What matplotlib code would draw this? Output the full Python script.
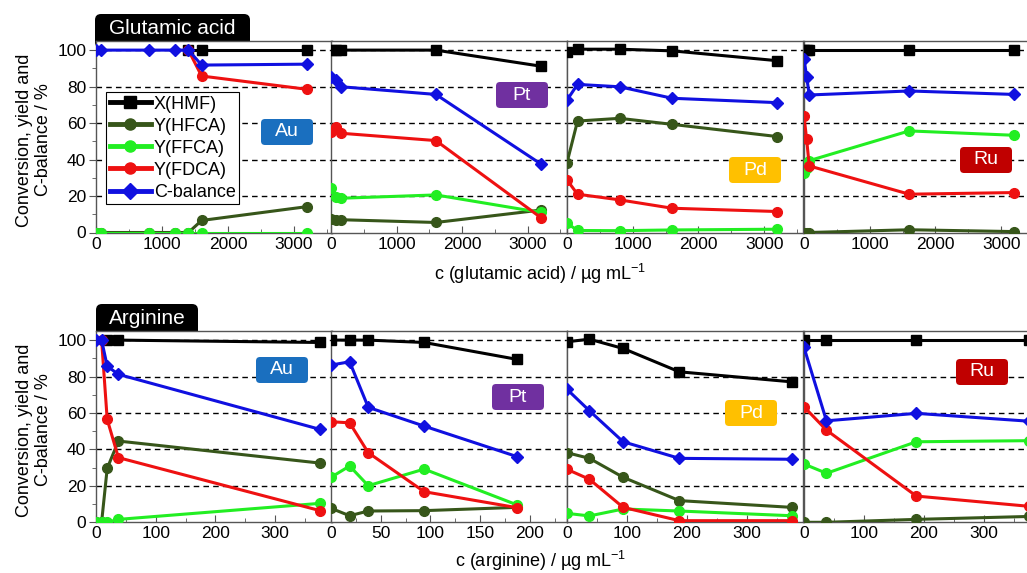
import matplotlib
matplotlib.use("Agg")
import matplotlib.pyplot as plt
from matplotlib.ticker import MultipleLocator, AutoMinorLocator
from matplotlib.patches import FancyBboxPatch
from matplotlib.transforms import IdentityTransform

plt.rcParams['font.family'] = ['Liberation Sans', 'DejaVu Sans']
plt.rcParams['mathtext.default'] = 'regular'

nan = float('nan')

# ---------------- data ----------------
series_names = ["X(HMF)", "Y(HFCA)", "Y(FFCA)", "Y(FDCA)", "C-balance"]
series_colors = ["#000000", "#37561a", "#22ee22", "#ee1111", "#1010e0"]
series_markers = ["s", "o", "o", "o", "D"]

catalysts = ["Au", "Pt", "Pd", "Ru"]
catalyst_colors = ["#1a6fbf", "#7030a0", "#ffc000", "#c00000"]

# Glutamic acid (µg/mL)
glu_x_au = [0, 80, 800, 1200, 1400, 1600, 3200]
glu_au_hmf = [nan, nan, nan, nan, 100, 100, 100]
glu_au_hfca = [0, 0, 0, 0, 0, 6.6, 14.2]
glu_au_ffca = [0, 0, 0, 0, 0, 0, 0]
glu_au_fdca = [nan, nan, nan, nan, 100, 85.8, 78.5]
glu_au_cbal = [100, 100, 100, 100, 100, 91.8, 92.3]

glu_x_pt = [0, 80, 160, 1600, 3200]
glu_pt_hmf = [100, 100, 100, 100, 91.2]
glu_pt_hfca = [7.3, 6.6, 7.0, 5.5, 12.3]
glu_pt_ffca = [24.3, 19.2, 18.8, 20.6, 11.0]
glu_pt_fdca = [55.3, 58.0, 54.4, 50.4, 8.2]
glu_pt_cbal = [85.4, 83.6, 79.9, 75.7, 37.6]

glu_x_pd = [0, 160, 800, 1600, 3200]
glu_pd_hmf = [99.0, 100.5, 100.5, 99.6, 94.2]
glu_pd_hfca = [38.3, 61.1, 62.6, 59.3, 52.6]
glu_pd_ffca = [5.1, 1.1, 1.0, 1.4, 1.8]
glu_pd_fdca = [28.8, 21.0, 17.9, 13.3, 11.5]
glu_pd_cbal = [72.6, 81.2, 79.9, 73.6, 71.2]

glu_x_ru = [0, 40, 80, 1600, 3200]
glu_ru_hmf = [100, 100, 100, 100, 100]
glu_ru_hfca = [0, 0, 0, 1.5, 0.5]
glu_ru_ffca = [32.8, 35.5, 39.4, 55.7, 53.3]
glu_ru_fdca = [63.9, 51.1, 36.5, 21.0, 21.9]
glu_ru_cbal = [95.4, 85.4, 75.4, 77.6, 75.7]

# Arginine (µg/mL)
arg_x_au = [0, 9.375, 18.75, 37.5, 375]
arg_au_hmf = [nan, nan, 100, 100, 98.7]
arg_au_hfca = [0, 0, 29.6, 44.6, 32.5]
arg_au_ffca = [0, 0, 0, 1.6, 10.4]
arg_au_fdca = [nan, 100, 56.5, 35.5, 6.4]
arg_au_cbal = [100, 100, 85.7, 81.2, 51.0]

arg_x_pt = [0, 18.75, 37.5, 93.75, 187.5]
arg_pt_hmf = [100, 100, 100, 98.7, 89.4]
arg_pt_hfca = [7.7, 3.6, 6.2, 6.4, 8.2]
arg_pt_ffca = [24.7, 30.9, 20.1, 29.2, 9.5]
arg_pt_fdca = [55.2, 54.6, 38.2, 16.8, 8.0]
arg_pt_cbal = [86.3, 88.1, 63.1, 52.8, 36.0]

arg_x_pd = [0, 37.5, 93.75, 187.5, 375]
arg_pd_hmf = [99.1, 100.5, 95.4, 82.6, 77.1]
arg_pd_hfca = [38.2, 35.1, 24.7, 11.9, 8.2]
arg_pd_ffca = [4.9, 3.5, 7.3, 6.2, 3.6]
arg_pd_fdca = [29.1, 23.6, 8.2, 0.9, 0.9]
arg_pd_cbal = [73.0, 61.2, 44.2, 35.1, 34.6]

arg_x_ru = [0, 37.5, 187.5, 375]
arg_ru_hmf = [100, 100, 100, 100]
arg_ru_hfca = [0, 0, 1.6, 3.2]
arg_ru_ffca = [32.0, 26.9, 44.2, 44.8]
arg_ru_fdca = [63.4, 50.6, 14.4, 8.8]
arg_ru_cbal = [96.0, 55.7, 59.8, 55.5]

glu_panels = [
    (glu_x_au, [glu_au_hmf, glu_au_hfca, glu_au_ffca, glu_au_fdca, glu_au_cbal]),
    (glu_x_pt, [glu_pt_hmf, glu_pt_hfca, glu_pt_ffca, glu_pt_fdca, glu_pt_cbal]),
    (glu_x_pd, [glu_pd_hmf, glu_pd_hfca, glu_pd_ffca, glu_pd_fdca, glu_pd_cbal]),
    (glu_x_ru, [glu_ru_hmf, glu_ru_hfca, glu_ru_ffca, glu_ru_fdca, glu_ru_cbal]),
]
arg_panels = [
    (arg_x_au, [arg_au_hmf, arg_au_hfca, arg_au_ffca, arg_au_fdca, arg_au_cbal]),
    (arg_x_pt, [arg_pt_hmf, arg_pt_hfca, arg_pt_ffca, arg_pt_fdca, arg_pt_cbal]),
    (arg_x_pd, [arg_pd_hmf, arg_pd_hfca, arg_pd_ffca, arg_pd_fdca, arg_pd_cbal]),
    (arg_x_ru, [arg_ru_hmf, arg_ru_hfca, arg_ru_ffca, arg_ru_fdca, arg_ru_cbal]),
]

glu_xlims = [3575, 3600, 3590, 3590]
glu_major = [1000, 1000, 1000, 1000]
arg_xlims = [395, 237.5, 394, 394]
arg_major = [100, 50, 100, 100]

# ---------------- layout ----------------
W, H = 1027, 573
fig = plt.figure(figsize=(W / 100, H / 100), dpi=100)


def px_box(x0, y0_top, w, h, color, text, fontsize, rounding=5, zorder=5):
    """Rounded box given in image pixels (origin top-left)."""
    patch = FancyBboxPatch((x0, H - y0_top - h), w, h,
                           boxstyle=f"round,pad=0,rounding_size={rounding}",
                           facecolor=color, edgecolor="none",
                           transform=IdentityTransform(), zorder=zorder)
    fig.add_artist(patch)
    fig.text((x0 + w / 2) / W, 1 - (y0_top + h / 2) / H, text, color="white",
             fontsize=fontsize, ha="center", va="center", zorder=zorder + 1)


lefts_px = [96, 331, 567, 804]
width_px = 236
rows = [(41, 232.5), (331, 522.3)]  # (top_px, bottom_px)

label_pos_glu = [(287, 132), (522, 95), (755, 170), (986, 160)]
label_pos_arg = [(282, 370), (518, 397), (751, 413), (982, 372)]

all_axes = []
for r, (panels, xlims, majors, lpos) in enumerate([
        (glu_panels, glu_xlims, glu_major, label_pos_glu),
        (arg_panels, arg_xlims, arg_major, label_pos_arg)]):
    top_px, bot_px = rows[r]
    row_axes = []
    for i, (xv, ys) in enumerate(panels):
        ax = fig.add_axes([lefts_px[i] / W, 1 - bot_px / H, width_px / W, (bot_px - top_px) / H])
        ax.set_zorder(2)
        for yv, name, col, mk in zip(ys, series_names, series_colors, series_markers):
            ms = 7 if mk != "D" else 6.5
            ax.plot(xv, yv, color=col, marker=mk, markersize=ms, linewidth=2.2,
                    label=name, zorder=3)
        ax.set_xlim(0, xlims[i])
        ax.set_ylim(0, 105)
        ax.yaxis.set_major_locator(MultipleLocator(20))
        ax.yaxis.set_minor_locator(MultipleLocator(10))
        ax.xaxis.set_major_locator(MultipleLocator(majors[i]))
        ax.xaxis.set_minor_locator(AutoMinorLocator(2))
        for yg in [20, 40, 60, 80, 100]:
            ax.axhline(yg, color="black", linestyle=(0, (4, 3)), linewidth=1.0, zorder=1)
        for sp in ax.spines.values():
            sp.set_color("#555555")
            sp.set_linewidth(1.0)
        ax.tick_params(axis="x", which="both", direction="in", labelsize=12.5,
                       colors="#555555", labelcolor="black", pad=3)
        ax.tick_params(axis="x", which="major", length=5)
        ax.tick_params(axis="x", which="minor", length=3)
        if i == 0:
            ax.tick_params(axis="y", which="both", direction="out", labelsize=12.5,
                           colors="#555555", labelcolor="black", pad=2)
            ax.tick_params(axis="y", which="major", length=5)
            ax.tick_params(axis="y", which="minor", length=3)
        else:
            ax.tick_params(axis="y", which="both", length=0, labelleft=False)
        row_axes.append(ax)
        # catalyst label (52x26 px box)
        cx, cy = lpos[i]
        px_box(cx - 26, cy - 13, 52, 26, catalyst_colors[i], catalysts[i], 14,
               rounding=4, zorder=10)
    all_axes.append(row_axes)

# legend
leg = all_axes[0][0].legend(loc="upper left", bbox_to_anchor=(106 / W, 1 - 92 / H),
                            bbox_transform=fig.transFigure, fontsize=13,
                            handlelength=2.3, handletextpad=0.15, labelspacing=0.28,
                            borderpad=0.2, borderaxespad=0, fancybox=False,
                            framealpha=1, edgecolor="black")
leg.get_frame().set_linewidth(0.8)
for h in leg.get_lines():
    h.set_linewidth(3.5)
    h.set_markersize(8)
leg.set_zorder(10)

# row title tabs (bottom corners hidden under the axes)
px_box(95, 14, 155, 34, "black", "", 15, rounding=6, zorder=1)
fig.text(172 / W, 1 - 28 / H, "Glutamic acid", color="white", fontsize=15,
         ha="center", va="center", zorder=3)
px_box(96, 304, 102, 34, "black", "", 15, rounding=6, zorder=1)
fig.text(147 / W, 1 - 318 / H, "Arginine", color="white", fontsize=15,
         ha="center", va="center", zorder=3)

# axis labels
for yc in [140, 430]:
    fig.text(34 / W, 1 - yc / H, "Conversion, yield and\nC-balance / %", rotation=90,
             fontsize=13, ha="center", va="center", linespacing=1.1)
fig.text(540 / W, 1 - 274 / H, "c (glutamic acid) / µg mL$^{-1}$", fontsize=13,
         ha="center", va="center")
fig.text(541 / W, 1 - 561 / H, "c (arginine) / µg mL$^{-1}$", fontsize=13,
         ha="center", va="center")

fig.savefig("out.png", dpi=100)
